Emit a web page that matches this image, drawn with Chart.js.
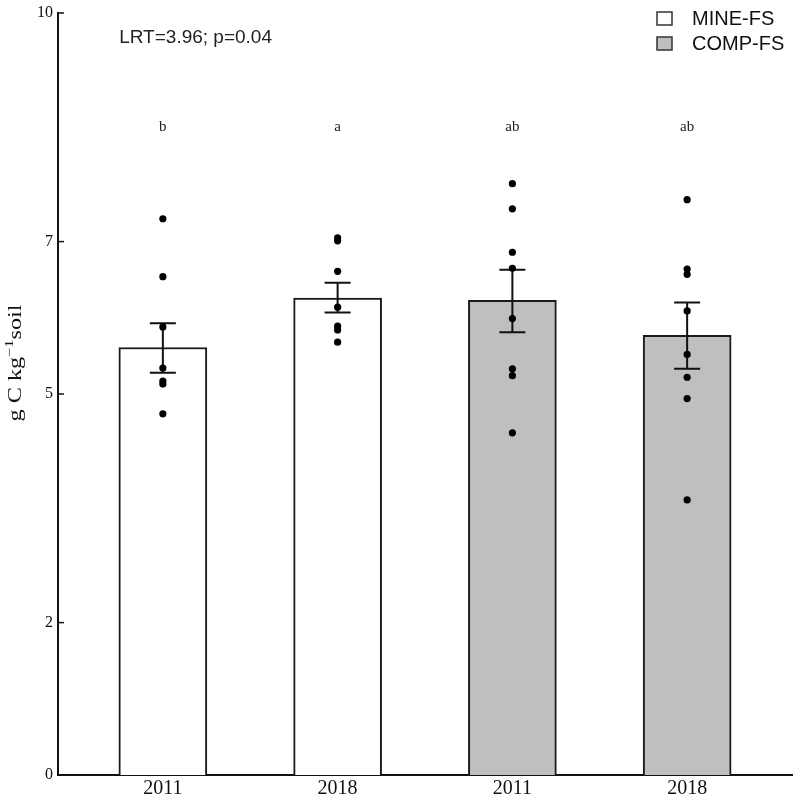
<!DOCTYPE html>
<html>
<head>
<meta charset="utf-8">
<script src="https://cdn.jsdelivr.net/npm/chart.js@4.4.1/dist/chart.umd.min.js"></script>
<style>
    html, body { margin: 0; padding: 0; background: #fff; }
    #cadre { width: 796px; height: 798px; }
</style>
</head>
<body>
<div id="cadre"><canvas id="carbone"></canvas></div>
<script>
// valeurs
const annees = ["2011", "2018", "2011", "2018"];
const traitements = ["MINE-FS", "MINE-FS", "COMP-FS", "COMP-FS"];
const positions = [1, 2, 3, 4];
const moyennes = [5.61, 6.26, 6.23, 5.77];
const erreurBas = [5.28, 6.07, 5.81, 5.33];
const erreurHaut = [5.93, 6.46, 6.63, 6.20];
const lettres = ["b", "a", "ab", "ab"];

const pointsMine2011 = [7.30, 6.54, 5.88, 5.34, 5.17, 5.13, 4.74];
const pointsMine2018 = [7.05, 7.01, 6.61, 6.14, 5.89, 5.84, 5.68];
const pointsComp2011 = [7.76, 7.43, 6.86, 6.65, 5.99, 5.33, 5.24, 4.49];
const pointsComp2018 = [7.55, 6.64, 6.57, 6.09, 5.52, 5.22, 4.94, 3.61];

const graduationsY = [0, 2, 5, 7, 10];
const legende = ["MINE-FS", "COMP-FS"];
const texteLRT = "LRT=3.96; p=0.04";

const couleurs = {"MINE-FS": "#ffffff", "COMP-FS": "#bfbfbf"};
const groupesPoints = [pointsMine2011, pointsMine2018, pointsComp2011, pointsComp2018];

const dessinExtra = {
    id: 'dessinExtra',
    afterDatasetDraw(chart, args) {
        if (args.meta.type !== 'bar') return;
        const {ctx, scales: {x, y}} = chart;
        ctx.save();
        ctx.strokeStyle = '#111';
        ctx.lineWidth = 2;
        positions.forEach((p, i) => {
            const px = x.getPixelForValue(p);
            const yh = y.getPixelForValue(erreurHaut[i]);
            const yb = y.getPixelForValue(erreurBas[i]);
            ctx.beginPath();
            ctx.moveTo(px, yh); ctx.lineTo(px, yb);
            ctx.moveTo(px - 13, yh); ctx.lineTo(px + 13, yh);
            ctx.moveTo(px - 13, yb); ctx.lineTo(px + 13, yb);
            ctx.stroke();
        });
        ctx.restore();
    },
    afterDraw(chart) {
        const {ctx, chartArea, scales: {x, y}} = chart;
        ctx.save();
        // graduations vers l'interieur
        ctx.strokeStyle = '#111';
        ctx.lineWidth = 1.5;
        y.ticks.forEach(t => {
            const py = y.getPixelForValue(t.value);
            ctx.beginPath();
            ctx.moveTo(chartArea.left, py);
            ctx.lineTo(chartArea.left + 6, py);
            ctx.stroke();
        });
        // lettres de comparaison
        ctx.fillStyle = '#222';
        ctx.font = '15px "Liberation Serif"';
        ctx.textAlign = 'center';
        ctx.textBaseline = 'middle';
        positions.forEach((p, i) => {
            ctx.fillText(lettres[i], x.getPixelForValue(p), y.getPixelForValue(8.5));
        });
        // statistique
        ctx.font = '19px "Liberation Sans"';
        ctx.textAlign = 'left';
        ctx.fillText(texteLRT, x.getPixelForValue(0.75), y.getPixelForValue(9.68));
        // legende
        ctx.font = '20px "Liberation Sans"';
        legende.forEach((nom, i) => {
            const hy = 12 + i * 25;
            const bx = chartArea.right - 135;
            ctx.fillStyle = couleurs[nom];
            ctx.fillRect(bx, hy, 15, 13);
            ctx.strokeStyle = '#333';
            ctx.lineWidth = 1.5;
            ctx.strokeRect(bx, hy, 15, 13);
            ctx.fillStyle = '#111';
            ctx.fillText(nom, bx + 35, hy + 7);
        });
        // titre de l'axe y
        ctx.translate(15, 363);
        ctx.rotate(-Math.PI / 2);
        ctx.scale(1.35, 1);
        const partie1 = "g C kg";
        const partie2 = "\u22121";
        const partie3 = "soil";
        ctx.font = '18px "Liberation Serif"';
        const l1 = ctx.measureText(partie1).width;
        const l3 = ctx.measureText(partie3).width;
        ctx.font = '12px "Liberation Serif"';
        const l2 = ctx.measureText(partie2).width;
        let cx = -(l1 + l2 + l3) / 2;
        ctx.fillStyle = '#111';
        ctx.textBaseline = 'alphabetic';
        ctx.font = '18px "Liberation Serif"';
        ctx.fillText(partie1, cx, 6);
        cx += l1;
        ctx.font = '12px "Liberation Serif"';
        ctx.fillText(partie2, cx, -2);
        cx += l2;
        ctx.font = '18px "Liberation Serif"';
        ctx.fillText(partie3, cx, 6);
        ctx.restore();
    }
};

const barres = {
    type: 'bar',
    label: 'moyenne',
    data: positions.map((p, i) => ({x: p, y: moyennes[i]})),
    backgroundColor: traitements.map(t => couleurs[t]),
    borderColor: '#1a1a1a',
    borderWidth: 2,
    barThickness: 88,
    order: 2
};

const points = {
    type: 'scatter',
    label: 'mesures',
    data: groupesPoints.flatMap((g, i) => g.map(v => ({x: positions[i], y: v}))),
    backgroundColor: '#000',
    borderColor: '#000',
    pointRadius: 3.6,
    pointBorderWidth: 0,
    order: 1
};

new Chart(document.getElementById('carbone'), {
    type: 'bar',
    data: {datasets: [barres, points]},
    options: {
        responsive: true,
        maintainAspectRatio: false,
        animation: false,
        layout: {padding: {left: 0, right: 3, top: 0, bottom: 0}},
        plugins: {legend: {display: false}, tooltip: {enabled: false}},
        scales: {
            x: {
                type: 'linear',
                offset: false,
                min: 0.4,
                max: 4.6,
                grid: {display: false, drawTicks: false, offset: false},
                border: {display: true, color: '#111', width: 2},
                afterBuildTicks: s => { s.ticks = positions.map(v => ({value: v})); },
                afterFit: s => { s.height = 23; },
                ticks: {
                    padding: 2,
                    color: '#111',
                    font: {family: 'Liberation Serif', size: 20},
                    callback: v => annees[positions.indexOf(v)]
                }
            },
            y: {
                min: 0,
                max: 10,
                grid: {display: false, drawTicks: false},
                border: {display: true, color: '#111', width: 2},
                afterBuildTicks: s => { s.ticks = graduationsY.map(v => ({value: v})); },
                afterFit: s => { s.width = 58; },
                ticks: {
                    padding: 5,
                    color: '#111',
                    font: {family: 'Liberation Serif', size: 16, lineHeight: 1.0}
                }
            }
        }
    },
    plugins: [dessinExtra]
});
</script>
</body>
</html>
